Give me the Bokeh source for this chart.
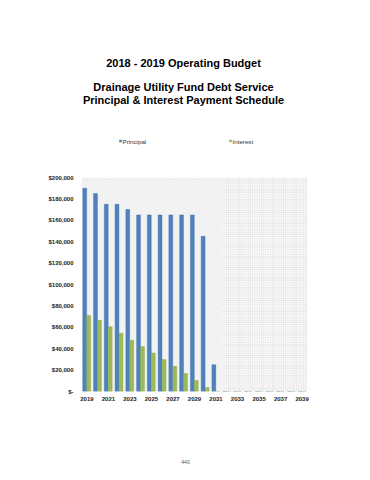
from bokeh.plotting import figure
from bokeh.layouts import column
from bokeh.models import ColumnDataSource, FixedTicker, Range1d
from bokeh.core.properties import value
from bokeh.transform import dodge
from bokeh.embed import file_html
from bokeh.resources import INLINE

years = list(range(2019, 2040))
principal = [190000, 185000, 175000, 175000, 170000, 165000, 165000, 165000,
             165000, 165000, 165000, 145000, 25000] + [0] * 8
interest = [71000, 66500, 60500, 54500, 48000, 42000, 36000, 29800, 23500,
            16800, 10200, 3800, 0] + [0] * 8
x_ticks = list(range(2019, 2040, 2))
y_ticks = list(range(0, 200001, 20000))
y_labels = {v: ("$-" if v == 0 else "${:,}".format(v)) for v in y_ticks}
title_lines = ["2018 - 2019 Operating Budget",
               "Drainage Utility Fund Debt Service",
               "Principal & Interest Payment Schedule"]
series_names = ["Principal", "Interest"]
series_colors = ["#4f81bd", "#9bbb59"]
page_number = "440"

FONT = "Liberation Sans"
W = 366
HEAD_H, MAIN_H, FOOT_H = 160, 260, 56
FL, FR, FT, FB = 81, 307, 177, 391   # frame edges in page pixels


def blank(h, y0):
    # frame aligned with the chart frame; x in page pixels, y in page pixels
    f = figure(width=W, height=h, output_backend="svg", toolbar_location=None,
               x_range=Range1d(FL, FR), y_range=Range1d(y0 + h, y0),
               min_border_left=FL, min_border_right=W - FR,
               min_border_top=0, min_border_bottom=0,
               outline_line_color=None,
               background_fill_color="white", border_fill_color="white")
    f.axis.visible = False
    f.grid.visible = False
    return f


# ---- header: titles + legend ----
head = blank(HEAD_H, 0)
head.text(x=[183] * 3, y=[62, 86, 99], text=title_lines,
          text_font=value(FONT), text_font_style="bold",
          text_font_size="11px", text_align="center",
          text_baseline="middle", text_color="black")
leg_x = [119, 229]
head.rect(x=[lx + 1 for lx in leg_x], y=[140.5, 140.5], width=2.6,
          height=2.6, fill_color=series_colors, line_color=None)
head.text(x=[lx + 3 for lx in leg_x], y=[140.5, 140.5], text=series_names,
          text_font=value(FONT), text_font_size="6.2px", text_align="left",
          text_baseline="middle", text_color="#333333")

# ---- main chart ----
p = figure(width=W, height=MAIN_H, output_backend="svg",
           toolbar_location=None,
           x_range=Range1d(2018.5, 2039.5), y_range=Range1d(0, 200000),
           min_border_left=FL, min_border_right=W - FR,
           min_border_top=FT - HEAD_H,
           min_border_bottom=HEAD_H + MAIN_H - FB,
           background_fill_color="white", border_fill_color="white",
           outline_line_color=None)

p.quad(left=[2018.5], right=[2031.5], bottom=[0], top=[200000],
       fill_color="#f2f2f2", line_color=None)
p.quad(left=[2031.5], right=[2039.5], bottom=[0], top=[200000],
       fill_color="#fafafa", line_color=None, hatch_pattern="+",
       hatch_color="#d6d6d6", hatch_scale=2.2, hatch_weight=0.5)
p.quad(left=[2018.5], right=[2031.5], bottom=[197000], top=[200000],
       fill_color="#fafafa", line_color=None, hatch_pattern="+",
       hatch_color="#d6d6d6", hatch_scale=2.2, hatch_weight=0.5)

src = ColumnDataSource(dict(x=years, p=principal, i=interest))
p.xgrid.grid_line_color = None
p.ygrid.grid_line_color = "#a6a6a6"
p.ygrid.grid_line_width = 1
p.ygrid.ticker = FixedTicker(ticks=y_ticks)

p.vbar(x=dodge("x", -0.2), top="p", width=0.36, source=src,
       fill_color=series_colors[0], line_color="#3f6fa8", line_width=0.4)
p.vbar(x=dodge("x", 0.17), top="i", width=0.36, source=src,
       fill_color=series_colors[1], line_color="#84a448", line_width=0.4)

p.xaxis.ticker = FixedTicker(ticks=x_ticks)
p.yaxis.ticker = FixedTicker(ticks=y_ticks)
p.yaxis.major_label_overrides = y_labels
for ax in (p.xaxis, p.yaxis):
    ax.major_tick_line_color = None
    ax.minor_tick_line_color = None
    ax.major_tick_out = 0
    ax.major_tick_in = 0
    ax.minor_tick_out = 0
    ax.minor_tick_in = 0
    ax.axis_line_color = None
    ax.major_label_text_font = FONT
    ax.major_label_text_font_style = "bold"
    ax.major_label_text_font_size = "6px"
    ax.major_label_text_color = "#222222"
p.xaxis.major_label_standoff = 5
p.yaxis.major_label_standoff = 8

# ---- footer: page number ----
foot = blank(FOOT_H, HEAD_H + MAIN_H)
foot.text(x=[185], y=[461], text=[page_number], text_font=value(FONT),
          text_font_size="5px", text_align="center", text_baseline="middle",
          text_color="#555555")

layout = column(head, p, foot, spacing=0)
open("out.html", "w").write(file_html(layout, INLINE))
